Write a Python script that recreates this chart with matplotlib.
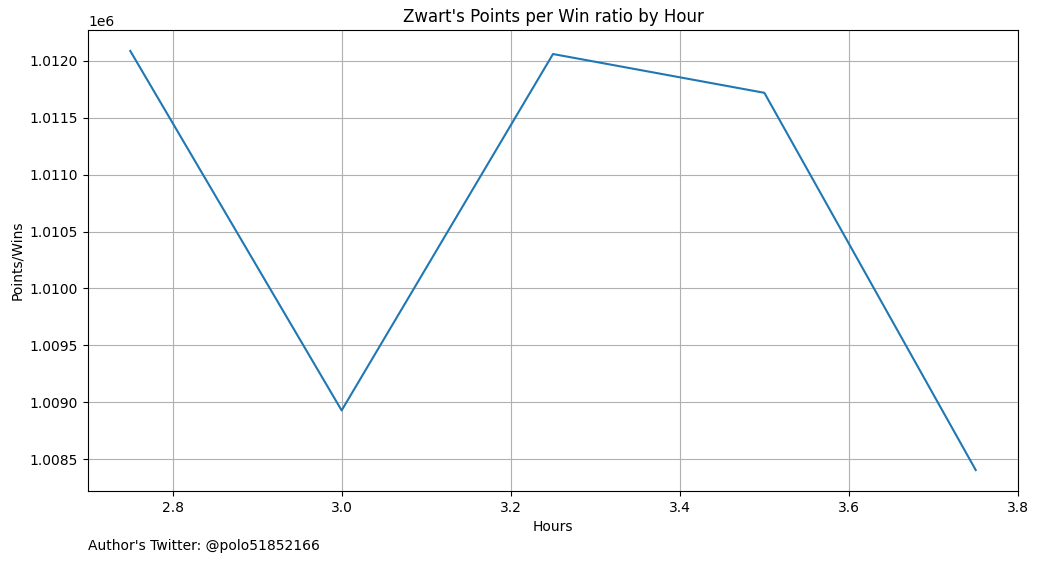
import matplotlib
matplotlib.use("Agg")
import matplotlib.pyplot as plt

# hours played and points-per-win ratio
hours = [2.75, 3.0, 3.25, 3.5, 3.75]
points_per_win = [1012088, 1008928, 1012061, 1011720, 1008404]

W, H = 1039, 562
fig = plt.figure(figsize=(W / 100, H / 100), dpi=100)
ax = fig.add_axes([88 / W, (H - 491) / H, (1018 - 88) / W, (491 - 30) / H])

ax.plot(hours, points_per_win)
ax.set_title("Zwart's Points per Win ratio by Hour")
ax.set_xlabel("Hours")
ax.set_ylabel("Points/Wins")
ax.grid(True)

fig.text(88 / W, (H - 550) / H, "Author's Twitter: @polo51852166")

fig.savefig("out.png", dpi=100)
